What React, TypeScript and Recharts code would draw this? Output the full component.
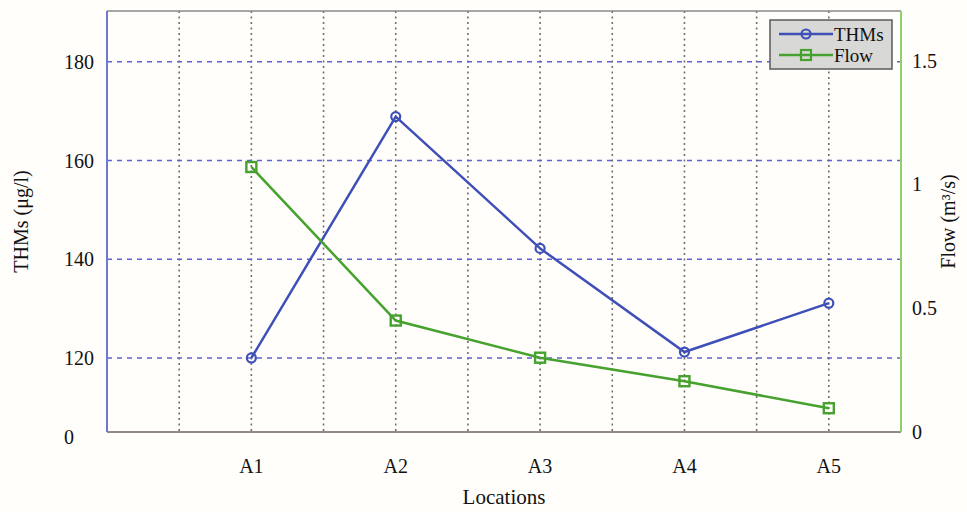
import { ComposedChart, Line, XAxis, YAxis, CartesianGrid } from 'recharts'

// category positions on the numeric x axis and their labels
const locations = [1, 2, 3, 4, 5]
const locationLabels = ['A1', 'A2', 'A3', 'A4', 'A5']
const xTicks = [0.5, 1, 1.5, 2, 2.5, 3, 3.5, 4, 4.5, 5]

// series values
const thms = [120, 168.9, 142.2, 121.2, 131.1]
const flow = [1.07, 0.45, 0.3, 0.205, 0.096]

const leftTicks = [105, 120, 140, 160, 180]
const gridValues = [120, 140, 160, 180]
const rightTicks = [0, 0.5, 1, 1.5]

const BLUE = '#3f4fb8'
const GREEN = '#47a12f'
const FONT = '"Liberation Serif", "Times New Roman", serif'

const data = locations.map((x, i) => ({ x, thms: thms[i], flow: flow[i] }))

const xLabel = (v: number) => {
  const i = locations.indexOf(v)
  return i >= 0 ? locationLabels[i] : ''
}

// MATLAB-style left ticks: left aligned, bottom one reads "0"
const LeftTick = (props: any) => {
  const { y, payload } = props
  const text = payload.value === leftTicks[0] ? '0' : String(payload.value)
  const dy = payload.value === leftTicks[0] ? 5 : 0
  return (
    <text x={64} y={y + dy} dy="0.35em" textAnchor="start" fontSize={20} fontFamily={FONT} fill="#111">
      {text}
    </text>
  )
}

const SquareDot = (props: any) => {
  const { cx, cy, index } = props
  if (cx == null || cy == null) return <g key={index} />
  return <rect key={index} x={cx - 5} y={cy - 5} width={10} height={10} fill="none" stroke={GREEN} strokeWidth={2.4} />
}

const LegendBox = () => (
  <svg width={125} height={52} style={{ position: 'absolute', left: 769, top: 19 }}>
    <rect x={1} y={1} width={122} height={49} fill="#d8d8d6" stroke="#5a5a5a" strokeWidth={1.5} />
    <line x1={10} y1={15} x2={64} y2={15} stroke={BLUE} strokeWidth={2.5} />
    <circle cx={37} cy={15} r={4.5} fill="none" stroke={BLUE} strokeWidth={2.2} />
    <text x={65} y={15} dy="0.35em" fontSize={19} fontFamily={FONT} fill="#111">THMs</text>
    <line x1={10} y1={36} x2={64} y2={36} stroke={GREEN} strokeWidth={2.5} />
    <rect x={32} y={31} width={10} height={10} fill="none" stroke={GREEN} strokeWidth={2.2} />
    <text x={65} y={36} dy="0.35em" fontSize={19} fontFamily={FONT} fill="#111">Flow</text>
  </svg>
)

export default function App() {
  return (
    <div style={{ position: 'absolute', left: 0, top: 0, width: 967, height: 512, background: '#fffefb' }}>
      <ComposedChart width={967} height={512} data={data} margin={{ top: 10, right: 16, left: 47, bottom: 8 }}>
        <CartesianGrid xAxisId="bottom" yAxisId="left" horizontal={false} stroke="#6f6f6f" strokeDasharray="2 3.5" strokeWidth={1.6} />
        <CartesianGrid
          xAxisId="bottom"
          yAxisId="left"
          vertical={false}
          horizontalValues={gridValues}
          stroke="#5c63d6"
          strokeDasharray="5 5"
          strokeWidth={1.5}
        />
        <XAxis
          xAxisId="top"
          orientation="top"
          dataKey="x"
          type="number"
          domain={[0, 5.5]}
          ticks={xTicks}
          tick={false}
          tickLine={false}
          height={1}
          axisLine={{ stroke: '#8a8a8a', strokeWidth: 1.5 }}
        />
        <XAxis
          xAxisId="bottom"
          dataKey="x"
          type="number"
          domain={[0, 5.5]}
          ticks={xTicks}
          interval={0}
          tickFormatter={xLabel}
          tickLine={false}
          tickMargin={21}
          height={72}
          axisLine={{ stroke: '#6e625a', strokeWidth: 1.5 }}
          tick={{ fontSize: 20, fontFamily: FONT, fill: '#111' }}
          label={{ value: 'Locations', position: 'insideBottom', offset: 0, fontSize: 21, fontFamily: FONT, fill: '#111' }}
        />
        <YAxis
          yAxisId="left"
          width={60}
          type="number"
          domain={[105, 190.3]}
          ticks={leftTicks}
          interval={0}
          tickLine={false}
          tick={<LeftTick />}
          axisLine={{ stroke: '#6f78cc', strokeWidth: 2 }}
          label={{
            value: 'THMs (μg/l)',
            angle: -90,
            position: 'insideLeft',
            offset: -26,
            fontSize: 20,
            fontFamily: FONT,
            fill: '#111',
            style: { textAnchor: 'middle' },
          }}
        />
        <YAxis
          yAxisId="right"
          orientation="right"
          width={50}
          type="number"
          domain={[0, 1.7]}
          ticks={rightTicks}
          interval={0}
          tickLine={false}
          tickMargin={5}
          axisLine={{ stroke: '#8fcf6c', strokeWidth: 2 }}
          tick={{ fontSize: 20, fontFamily: FONT, fill: '#111' }}
          label={{
            value: 'Flow (m³/s)',
            angle: -90,
            position: 'insideRight',
            offset: 3,
            fontSize: 20,
            fontFamily: FONT,
            fill: '#111',
            style: { textAnchor: 'middle' },
          }}
        />
        <Line
          xAxisId="bottom"
          yAxisId="left"
          dataKey="thms"
          name="THMs"
          type="linear"
          stroke={BLUE}
          strokeWidth={2.5}
          dot={{ r: 4.5, fill: 'none', stroke: BLUE, strokeWidth: 2.2 }}
          activeDot={false}
          isAnimationActive={false}
        />
        <Line
          xAxisId="bottom"
          yAxisId="right"
          dataKey="flow"
          name="Flow"
          type="linear"
          stroke={GREEN}
          strokeWidth={2.5}
          dot={<SquareDot />}
          activeDot={false}
          isAnimationActive={false}
        />
      </ComposedChart>
      <LegendBox />
    </div>
  )
}
